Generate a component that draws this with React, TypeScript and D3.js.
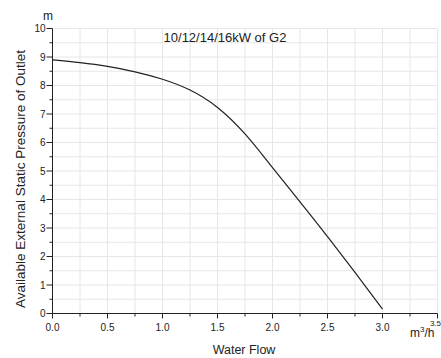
import React from "react";
import * as d3 from "d3";

const flow = [0, 0.25, 0.5, 0.75, 1.0, 1.25, 1.5, 1.75, 2.0, 2.25, 2.5, 2.75, 3.0];
const pressure = [8.9, 8.8, 8.67, 8.48, 8.22, 7.84, 7.23, 6.3, 5.12, 3.92, 2.7, 1.44, 0.15];
const xTicks = [0, 0.5, 1.0, 1.5, 2.0, 2.5, 3.0, 3.5];
const yTicks = [0, 1, 2, 3, 4, 5, 6, 7, 8, 9, 10];
const title = "10/12/14/16kW of G2";
const xLabel = "Water Flow";
const yLabel = "Available External Static Pressure of Outlet";

export default function App() {
  const W = 441, H = 358;
  const x = d3.scaleLinear().domain([0, 3.5]).range([52.5, 437.5]);
  const y = d3.scaleLinear().domain([0, 10]).range([313.5, 28.5]);
  const xGrid = d3.range(0, 3.5001, 0.25);
  const yGrid = d3.range(0, 10.001, 0.5);
  const line = d3
    .line<number>()
    .x((_, i) => x(flow[i]))
    .y((d) => y(d))
    .curve(d3.curveNatural);
  const font = "'Liberation Sans', Arial, sans-serif";
  return (
    <svg
      width={W}
      height={H}
      style={{ position: "absolute", left: 0, top: 0, background: "#fff" }}
      fontFamily={font}
    >
      {xGrid.map((v) => (
        <line key={"gx" + v} x1={x(v)} x2={x(v)} y1={y(0)} y2={y(10)} stroke="#e6e6e6" strokeWidth={1} />
      ))}
      {yGrid.map((v) => (
        <line key={"gy" + v} x1={x(0)} x2={x(3.5)} y1={y(v)} y2={y(v)} stroke="#e6e6e6" strokeWidth={1} />
      ))}
      <path d={line(pressure) || ""} fill="none" stroke="#222" strokeWidth={1.2} />
      <line x1={x(0)} x2={x(0)} y1={y(0)} y2={y(10)} stroke="#222" strokeWidth={1} />
      <line x1={x(0)} x2={x(3.5)} y1={y(0)} y2={y(0)} stroke="#222" strokeWidth={1} />
      {yGrid.map((v) => (
        <line
          key={"ty" + v}
          x1={x(0)}
          x2={x(0) - (v % 1 === 0 ? 6 : 3)}
          y1={y(v)}
          y2={y(v)}
          stroke="#222"
          strokeWidth={1}
        />
      ))}
      {xGrid.map((v) => (
        <line
          key={"tx" + v}
          x1={x(v)}
          x2={x(v)}
          y1={y(0)}
          y2={y(0) + (Math.abs(v * 2 - Math.round(v * 2)) < 1e-6 ? 5 : 3)}
          stroke="#222"
          strokeWidth={1}
        />
      ))}
      {yTicks.map((v) => (
        <text key={"ly" + v} x={x(0) - 7} y={y(v)} dy="0.35em" textAnchor="end" fontSize={10} fill="#222">
          {v}
        </text>
      ))}
      {xTicks.map((v) => (
        <text
          key={"lx" + v}
          x={v === 3.5 ? 441 : x(v)}
          y={v === 3.5 ? 326 : 331}
          textAnchor={v === 3.5 ? "end" : "middle"}
          fontSize={v === 3.5 ? 8 : 10}
          fill="#222"
        >
          {v.toFixed(1)}
        </text>
      ))}
      <text x={48} y={20} textAnchor="middle" fontSize={12} fill="#222">
        m
      </text>
      <text x={410} y={337} fontSize={12} fill="#222">
        m<tspan dy={-5} fontSize={8}>3</tspan>
        <tspan dy={5}>/h</tspan>
      </text>
      <text x={225} y={42} textAnchor="middle" fontSize={13} fill="#222">
        {title}
      </text>
      <text x={244} y={353.5} textAnchor="middle" fontSize={12.5} fill="#222">
        {xLabel}
      </text>
      <text
        transform={`translate(20, 179) rotate(-90)`}
        textAnchor="middle"
        dy="0.35em"
        fontSize={13.5}
        fill="#222"
      >
        {yLabel}
      </text>
    </svg>
  );
}
